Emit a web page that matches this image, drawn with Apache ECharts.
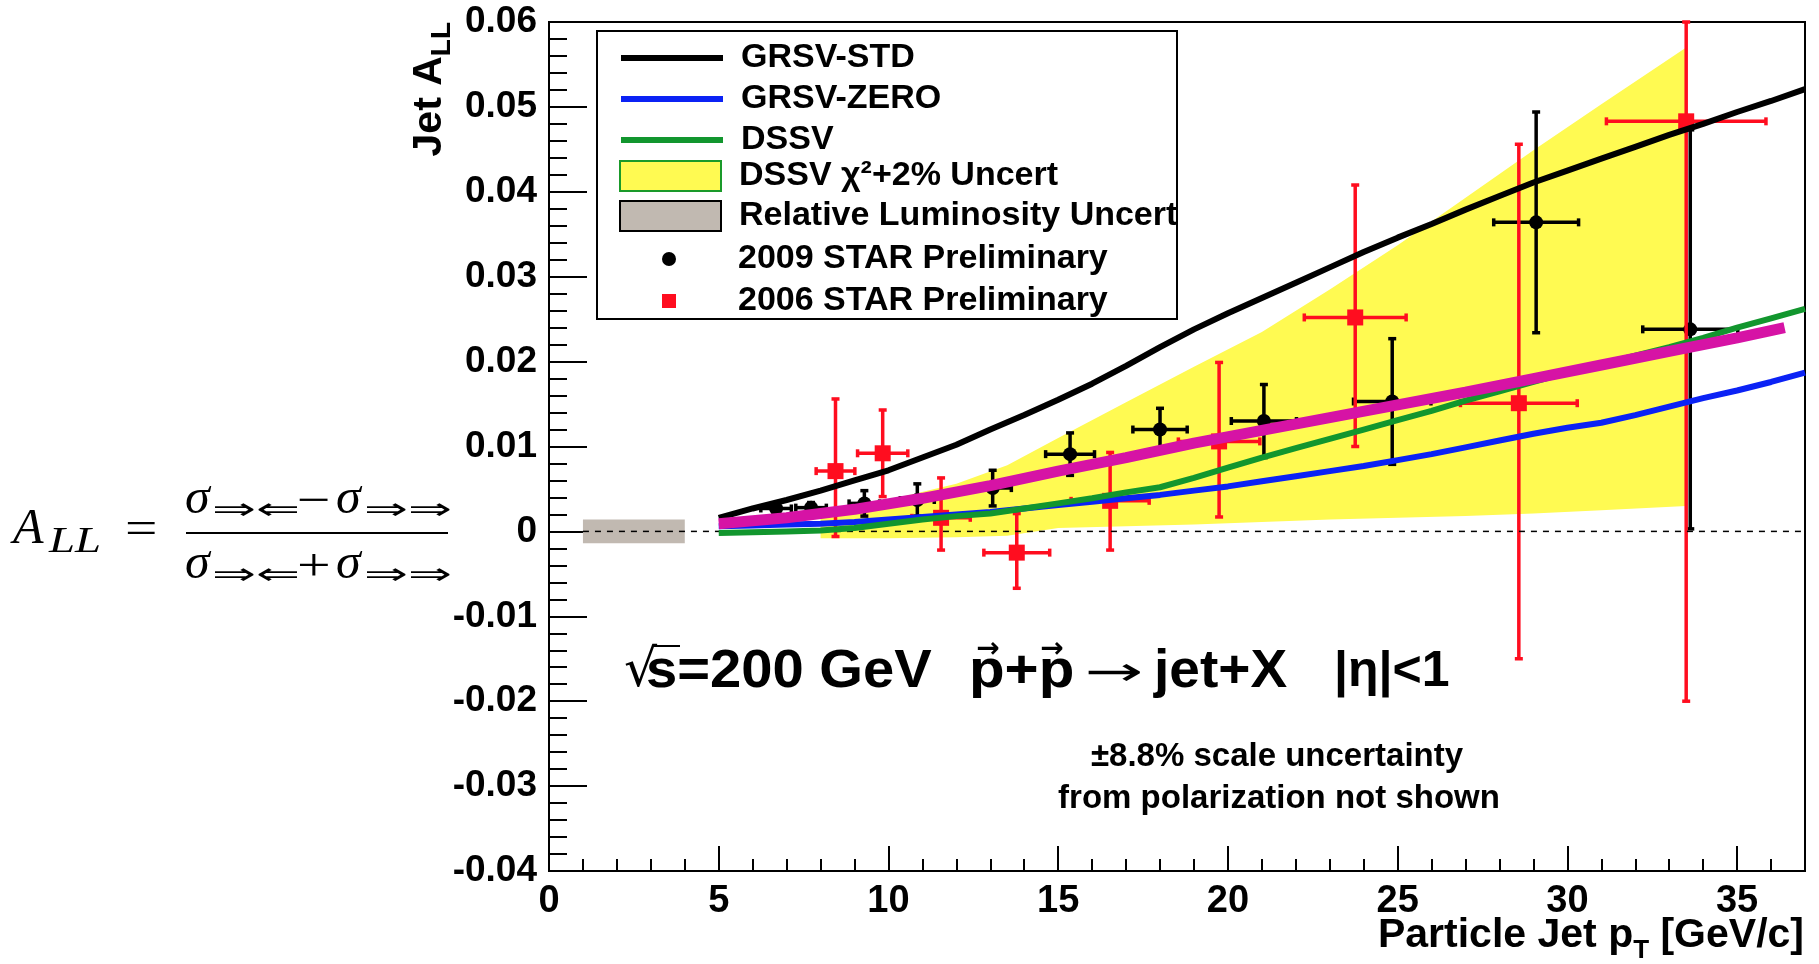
<!DOCTYPE html>
<html>
<head>
<meta charset="utf-8">
<title>Jet A_LL vs particle jet pT</title>
<script src="https://cdn.jsdelivr.net/npm/echarts@6/dist/echarts.min.js"></script>
<style>
  html, body { margin: 0; padding: 0; background: #fff; }
  #chart { width: 1819px; height: 964px; }
</style>
</head>
<body>
<div id="chart"></div>
<script>
// theory curves
const theoryX = [5,6,7,8,9,10,11,12,13,14,15,16,17,18,19,20,21,22,23,24,25,26,27,28,29,30,31,32,33,34,35,36,37];
const grsvStd = [0.0016,0.0027,0.0037,0.0048,0.0060,0.0072,0.0087,0.0102,0.0120,0.0137,0.0155,0.0174,0.0195,0.0217,0.0238,0.0257,0.0275,0.0293,0.0311,0.0329,0.0346,0.0362,0.0379,0.0395,0.0411,0.0425,0.0439,0.0453,0.0467,0.0480,0.0494,0.0507,0.0521];
const grsvZero = [0.0006,0.0007,0.0008,0.0009,0.0011,0.0014,0.0017,0.0020,0.0023,0.0027,0.0031,0.0035,0.0039,0.0043,0.0048,0.0053,0.0059,0.0065,0.0071,0.0077,0.0084,0.0091,0.0099,0.0107,0.0115,0.0122,0.0128,0.0137,0.0147,0.0157,0.0166,0.0176,0.0187];
const dssv = [-0.0002,-0.0001,0.0000,0.0001,0.0004,0.0009,0.0014,0.0018,0.0021,0.0027,0.0033,0.0039,0.0046,0.0052,0.0063,0.0075,0.0087,0.0098,0.0109,0.0120,0.0131,0.0142,0.0154,0.0165,0.0176,0.0187,0.0197,0.0207,0.0217,0.0228,0.0240,0.0251,0.0262];

// magenta fit
const fitX = [5,7,9,11,13,15,17,19,21,23,25,27,29,31,33,35,36.4];
const fitY = [0.0009,0.0016,0.0026,0.0039,0.0054,0.0071,0.0087,0.0104,0.0119,0.0134,0.0149,0.0164,0.0180,0.0196,0.0212,0.0228,0.0240];

// DSSV chi2+2% band
const bandX = [8,10,12,13.5,15,17,19,21,23,25,27,29,31,33.5];
const bandLo = [-0.0008,-0.0008,-0.0007,-0.0005,0.0004,0.0006,0.0008,0.0011,0.0014,0.0016,0.0018,0.0021,0.0025,0.0030];
const bandHi = [0.0020,0.0037,0.0056,0.0078,0.0110,0.0152,0.0194,0.0235,0.0285,0.0337,0.0393,0.0449,0.0503,0.0570];

// relative luminosity box and zero line
const lumiX = [1, 4];
const lumiY = [-0.0014, 0.0014];
const zeroX = [1, 37];

// 2009 STAR preliminary
const star09X = [6.69,7.72,9.29,10.85,13.07,15.35,18.0,21.06,24.84,29.08,33.62];
const star09Y = [0.0027,0.0028,0.0033,0.0037,0.0051,0.0091,0.0120,0.0130,0.0153,0.0364,0.0238];
const star09Ex = [0.45,0.45,0.45,0.5,0.55,0.72,0.8,0.96,1.14,1.25,1.4];
const star09Ey = [0.0006,0.0006,0.0015,0.0019,0.0021,0.0025,0.0025,0.0043,0.0074,0.013,0.0235];

// 2006 STAR preliminary
const star06X = [8.44,9.83,11.55,13.78,16.53,19.74,23.75,28.57,33.5];
const star06Y = [0.0071,0.0092,0.0016,-0.0025,0.0036,0.0106,0.0252,0.0151,0.0483];
const star06Ex = [0.57,0.74,0.86,0.97,1.15,1.2,1.5,1.72,2.35];
const star06EyLo = [0.0077,0.0051,0.0038,0.0042,0.0058,0.0089,0.0152,0.0301,0.0683];
const star06EyHi = [0.0085,0.0051,0.0047,0.0046,0.0057,0.0093,0.0156,0.0305,0.0117];

const SANS = 'Liberation Sans, Arial, Helvetica, sans-serif';
const SERIF = 'Liberation Serif, DejaVu Serif, serif';

function pairs(xs, ys) {
  return xs.map((x, i) => [x, ys[i]]);
}

function pointRenderer(color, marker) {
  return function (params, api) {
    const x = api.value(0), y = api.value(1), ex = api.value(2);
    const lo = api.value(3), hi = api.value(4);
    const c = api.coord([x, y]);
    const l = api.coord([x - ex, y]);
    const r = api.coord([x + ex, y]);
    const t = api.coord([x, y + hi]);
    const b = api.coord([x, y - lo]);
    const s = { stroke: color, lineWidth: 3.5 };
    const cap = 4;
    const kids = [
      { type: 'line', shape: { x1: l[0], y1: c[1], x2: r[0], y2: c[1] }, style: s },
      { type: 'line', shape: { x1: c[0], y1: t[1], x2: c[0], y2: b[1] }, style: s },
      { type: 'line', shape: { x1: l[0], y1: c[1] - cap, x2: l[0], y2: c[1] + cap }, style: s },
      { type: 'line', shape: { x1: r[0], y1: c[1] - cap, x2: r[0], y2: c[1] + cap }, style: s },
      { type: 'line', shape: { x1: c[0] - cap, y1: t[1], x2: c[0] + cap, y2: t[1] }, style: s },
      { type: 'line', shape: { x1: c[0] - cap, y1: b[1], x2: c[0] + cap, y2: b[1] }, style: s }
    ];
    if (marker === 'circle') {
      kids.push({ type: 'circle', shape: { cx: c[0], cy: c[1], r: 7 }, style: { fill: color } });
    } else {
      kids.push({ type: 'rect', shape: { x: c[0] - 8, y: c[1] - 8, width: 16, height: 16 }, style: { fill: color } });
    }
    return { type: 'group', children: kids };
  };
}

function txt(x, y, text, font, extra, align) {
  const el = { type: 'text', x: x, y: y, style: { text: text, font: font, align: align || 'left', verticalAlign: 'middle', fill: '#000' } };
  return Object.assign(el, extra || {});
}

const chart = echarts.init(document.getElementById('chart'));

const legendText = { fontFamily: SANS, fontWeight: 'bold', fontSize: 34, color: '#000', padding: [0, 0, 0, 13] };

const option = {
  animation: false,
  grid: { left: 549, right: 14, top: 22, bottom: 93, show: true, borderColor: '#000', borderWidth: 2 },
  xAxis: [
    {
      type: 'value', min: 0, max: 37, interval: 5, position: 'bottom',
      axisLine: { onZero: false, lineStyle: { color: '#000', width: 2 } },
      axisTick: { inside: true, length: 25, lineStyle: { color: '#000', width: 2 } },
      axisLabel: { showMaxLabel: false, margin: 12, color: '#000', fontFamily: SANS, fontWeight: 'bold', fontSize: 38 },
      splitLine: { show: false }
    },
    {
      type: 'value', min: 0, max: 37, interval: 1, position: 'bottom',
      axisLine: { show: false, onZero: false },
      axisTick: { inside: true, length: 12, lineStyle: { color: '#000', width: 2 } },
      axisLabel: { show: false },
      splitLine: { show: false }
    }
  ],
  yAxis: {
    type: 'value', min: -0.04, max: 0.06, interval: 0.01,
    axisLine: { onZero: false, lineStyle: { color: '#000', width: 2 } },
    axisTick: { inside: true, length: 38, lineStyle: { color: '#000', width: 2 } },
    minorTick: { show: true, splitNumber: 5, length: 18, lineStyle: { color: '#000', width: 2 } },
    axisLabel: {
      margin: 12, color: '#000', fontFamily: SANS, fontWeight: 'bold', fontSize: 37,
      formatter: function (v) { return Math.abs(v) < 1e-9 ? '0' : v.toFixed(2); }
    },
    splitLine: { show: false }
  },
  legend: [
    {
      data: ['GRSV-STD', 'GRSV-ZERO', 'DSSV'],
      orient: 'vertical', left: 618, top: 41, padding: 0, itemWidth: 102, itemHeight: 6, itemGap: 7,
      selectedMode: false, lineStyle: { width: 6 }, itemStyle: { opacity: 0 }, textStyle: legendText
    },
    {
      data: [
        { name: 'DSSV χ²+2% Uncert', icon: 'rect', itemStyle: { color: '#fffa52', borderColor: '#1a9a2a', borderWidth: 2 } },
        { name: 'Relative Luminosity Uncert', icon: 'rect', itemStyle: { color: '#c1b9b1', borderColor: '#000', borderWidth: 2 } }
      ],
      orient: 'vertical', left: 619, top: 159, padding: 0, itemWidth: 101, itemHeight: 30, itemGap: 6,
      selectedMode: false, textStyle: legendText
    },
    {
      data: [
        { name: '2009 STAR Preliminary', icon: 'circle' },
        { name: '2006 STAR Preliminary', icon: 'path://M0,0H10V10H0Z' }
      ],
      orient: 'vertical', left: 662, top: 242, padding: 0, itemWidth: 102, itemHeight: 14, itemGap: 8,
      selectedMode: false, textStyle: legendText
    }
  ],
  series: [
    {
      name: 'DSSV χ²+2% Uncert', type: 'custom', itemStyle: { color: '#fffa52' },
      data: [[bandX[0], bandLo[0]]],
      renderItem: function (params, api) {
        const pts = [];
        for (let i = 0; i < bandX.length; i++) pts.push(api.coord([bandX[i], bandHi[i]]));
        for (let i = bandX.length - 1; i >= 0; i--) pts.push(api.coord([bandX[i], bandLo[i]]));
        return { type: 'polygon', shape: { points: pts }, style: { fill: '#fffa52' } };
      }
    },
    {
      type: 'line', symbol: 'none', data: pairs(zeroX, [0, 0]),
      lineStyle: { color: '#000', width: 1.5, type: [6, 6] }
    },
    {
      name: 'Relative Luminosity Uncert', type: 'custom', itemStyle: { color: '#c1b9b1' },
      data: [[lumiX[0], lumiX[1], lumiY[0], lumiY[1]]],
      renderItem: function (params, api) {
        const p0 = api.coord([api.value(0), api.value(3)]);
        const p1 = api.coord([api.value(1), api.value(2)]);
        return { type: 'rect', shape: { x: p0[0], y: p0[1], width: p1[0] - p0[0], height: p1[1] - p0[1] }, style: { fill: '#c1b9b1' } };
      }
    },
    { name: 'GRSV-STD', type: 'line', symbol: 'none', data: pairs(theoryX, grsvStd), lineStyle: { color: '#000', width: 6 }, itemStyle: { color: '#000' } },
    { name: 'GRSV-ZERO', type: 'line', symbol: 'none', data: pairs(theoryX, grsvZero), lineStyle: { color: '#0b22f5', width: 6 }, itemStyle: { color: '#0b22f5' } },
    { name: 'DSSV', type: 'line', symbol: 'none', data: pairs(theoryX, dssv), lineStyle: { color: '#12962e', width: 6 }, itemStyle: { color: '#12962e' } },
    { type: 'line', symbol: 'none', data: pairs(fitX, fitY), lineStyle: { color: '#d613a5', width: 11 } },
    {
      name: '2009 STAR Preliminary', type: 'custom', itemStyle: { color: '#000' },
      data: star09X.map((x, i) => [x, star09Y[i], star09Ex[i], star09Ey[i], star09Ey[i]]),
      renderItem: pointRenderer('#000', 'circle')
    },
    {
      name: '2006 STAR Preliminary', type: 'custom', itemStyle: { color: '#ff0d1f' },
      data: star06X.map((x, i) => [x, star06Y[i], star06Ex[i], star06EyLo[i], star06EyHi[i]]),
      renderItem: pointRenderer('#ff0d1f', 'square')
    }
  ],
  graphic: [
    { type: 'rect', z: 3, shape: { x: 597, y: 31, width: 580, height: 288 }, style: { fill: '#fff', stroke: '#000', lineWidth: 2 } },
    // axis titles
    {
      type: 'text', x: 430, y: 22, rotation: Math.PI / 2,
      style: {
        text: 'Jet A{s|LL}', align: 'right', verticalAlign: 'middle',
        fontFamily: SANS, fontWeight: 'bold', fontSize: 41, fill: '#000',
        rich: { s: { fontFamily: SANS, fontWeight: 'bold', fontSize: 28, padding: [24, 0, 0, 0] } }
      }
    },
    {
      type: 'text', right: 15, top: 915,
      style: {
        text: 'Particle Jet p{s|T} [GeV/c]', fontFamily: SANS, fontWeight: 'bold', fontSize: 41, fill: '#000',
        rich: { s: { fontFamily: SANS, fontWeight: 'bold', fontSize: 26, padding: [30, 0, 0, 0] } }
      }
    },
    // asymmetry definition
    txt(13, 530, 'A', 'italic 50px ' + SERIF),
    txt(49, 543, 'LL', 'italic 36px ' + SERIF, { scaleX: 1.3 }),
    txt(125, 531, '=', '46px ' + SERIF, { scaleX: 1.25 }),
    { type: 'line', shape: { x1: 186, y1: 533, x2: 448, y2: 533 }, style: { stroke: '#000', lineWidth: 2 } },
    txt(185, 500, 'σ', 'italic 50px ' + SERIF),
    txt(212, 511, '⇒⇐', '30px DejaVu Sans', { scaleX: 1.75 }),
    txt(297, 503, '−', '46px ' + SERIF, { scaleX: 1.3 }),
    txt(336, 500, 'σ', 'italic 50px ' + SERIF),
    txt(364, 511, '⇒⇒', '30px DejaVu Sans', { scaleX: 1.75 }),
    txt(185, 565, 'σ', 'italic 50px ' + SERIF),
    txt(212, 576, '⇒⇐', '30px DejaVu Sans', { scaleX: 1.75 }),
    txt(297, 568, '+', '46px ' + SERIF, { scaleX: 1.3 }),
    txt(336, 565, 'σ', 'italic 50px ' + SERIF),
    txt(364, 576, '⇒⇒', '30px DejaVu Sans', { scaleX: 1.75 }),
    // reaction label
    txt(624, 672, '√', '52px DejaVu Sans'),
    { type: 'line', shape: { x1: 652, y1: 646, x2: 680, y2: 646 }, style: { stroke: '#000', lineWidth: 2 } },
    txt(646, 672, 's=200 GeV', 'bold 54px ' + SANS, { scaleX: 1.04 }),
    txt(969, 672, 'p+p', 'bold 54px ' + SANS, { scaleX: 1.08 }),
    txt(988, 650, '→', 'bold 28px DejaVu Sans', {}, 'center'),
    txt(1052, 650, '→', 'bold 28px DejaVu Sans', {}, 'center'),
    txt(1085, 675, '→', '40px DejaVu Sans', { scaleX: 1.75 }),
    txt(1154, 672, 'jet+X', 'bold 54px ' + SANS, { scaleX: 1.02 }),
    txt(1334, 672, '|η|<1', 'bold 50px ' + SANS),
    txt(1277, 757, '±8.8% scale uncertainty', 'bold 33px ' + SANS, {}, 'center'),
    txt(1279, 799, 'from polarization not shown', 'bold 33px ' + SANS, {}, 'center')
  ]
};

chart.setOption(option);

window.addEventListener('resize', function () {
  chart.resize();
});
</script>
</body>
</html>
